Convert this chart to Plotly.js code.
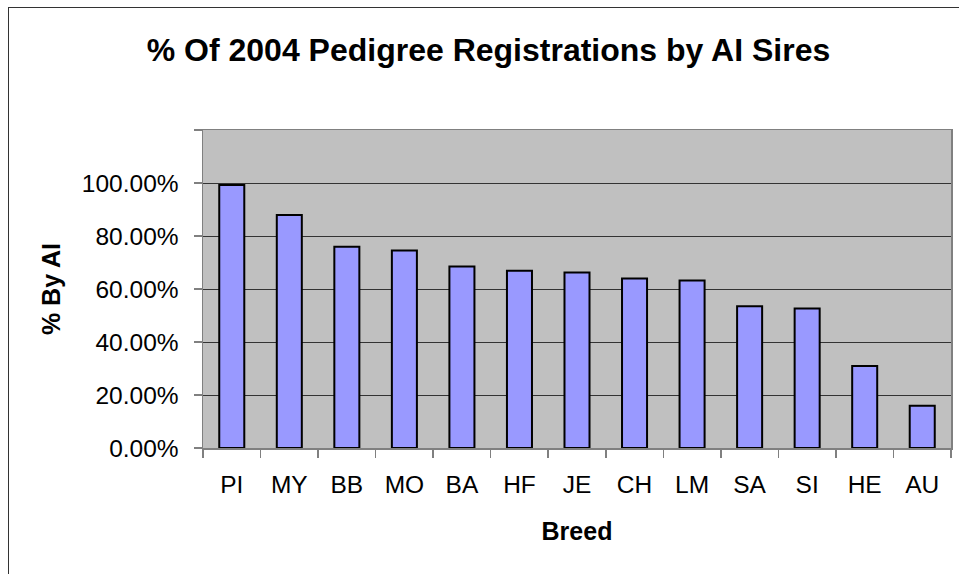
<!DOCTYPE html>
<html>
<head>
<meta charset="utf-8">
<script src="https://cdn.plot.ly/plotly-3.0.1.min.js"></script>
<style>
  html, body { margin: 0; padding: 0; background: #fff; overflow: hidden; width: 959px; height: 574px; }
  #frame { position: absolute; left: 8px; top: 7px; border-left: 1.5px solid #333; border-top: 1.5px solid #333; }
  #chart { width: 959px; height: 574px; }
</style>
</head>
<body>
<div id="frame"><div id="chart"></div></div>
<script>
const breeds = ["PI", "MY", "BB", "MO", "BA", "HF", "JE", "CH", "LM", "SA", "SI", "HE", "AU"];
const pctByAI = [99.2, 87.9, 75.9, 74.5, 68.5, 66.9, 66.2, 64.0, 63.2, 53.5, 52.6, 30.9, 15.9];
const yTickVals = [0, 20, 40, 60, 80, 100, 120];
const yTickText = ["0.00%", "20.00%", "40.00%", "60.00%", "80.00%", "100.00%", ""];

const FONT = "Liberation Sans, Arial, sans-serif";

const trace = {
  type: "bar",
  x: breeds,
  y: pctByAI,
  marker: { color: "#9999FF", line: { color: "#000000", width: 2 } },
  hoverinfo: "x+y"
};

const layout = {
  width: 959,
  height: 574,
  paper_bgcolor: "#ffffff",
  plot_bgcolor: "#C0C0C0",
  showlegend: false,
  bargap: 0.565,
  margin: { l: 194, r: 17, t: 122, b: 134, pad: 0 },
  font: { family: FONT, color: "#000", size: 24 },
  title: {
    text: "% Of 2004 Pedigree Registrations by AI Sires",
    font: { family: FONT, size: 32, color: "#000", weight: "bold" },
    xref: "container", yref: "container",
    x: 0.5, xanchor: "center",
    y: 1 - 42 / 574, yanchor: "middle"
  },
  xaxis: {
    type: "category",
    tickson: "boundaries",
    ticks: "outside",
    ticklen: 8,
    tickwidth: 1.5,
    tickcolor: "#808080",
    showline: true,
    linecolor: "#808080",
    linewidth: 1.5,
    mirror: true,
    showgrid: false,
    tickfont: { family: FONT, size: 24.5, color: "#000" },
    ticklabelstandoff: 14,
    automargin: false,
    title: {
      text: "Breed",
      font: { family: FONT, size: 25, color: "#000", weight: "bold" },
      standoff: 25
    }
  },
  yaxis: {
    range: [0, 120],
    tickvals: yTickVals,
    ticktext: yTickText,
    ticks: "outside",
    ticklen: 8,
    tickwidth: 1.5,
    tickcolor: "#808080",
    showline: true,
    linecolor: "#808080",
    linewidth: 1.5,
    mirror: true,
    showgrid: true,
    gridcolor: "#333333",
    gridwidth: 1,
    zeroline: false,
    tickfont: { family: FONT, size: 24.5, color: "#000" },
    ticklabelstandoff: 10,
    automargin: false,
    fixedrange: true,
    title: {
      text: "% By AI",
      font: { family: FONT, size: 25, color: "#000", weight: "bold" },
      standoff: 14
    }
  }
};

Plotly.newPlot("chart", [trace], layout, { displayModeBar: false, staticPlot: true });
</script>
</body>
</html>
